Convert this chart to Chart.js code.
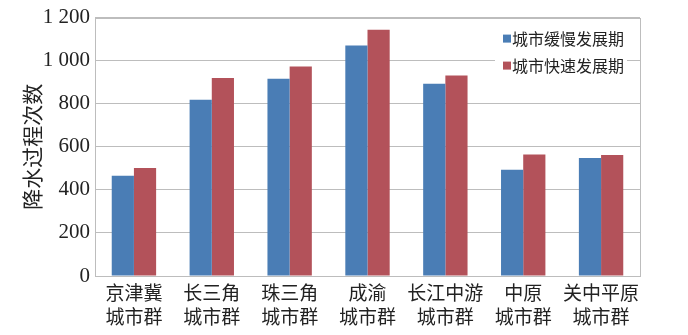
<!DOCTYPE html>
<html>
<head>
<meta charset="utf-8">
<script src="https://cdn.jsdelivr.net/npm/chart.js@4"></script>
<style>
  html, body { margin: 0; padding: 0; background: #fff; }
  #wrap { width: 688px; height: 335px; }
</style>
</head>
<body>
<div id="wrap"><canvas id="rainChart" width="688" height="335"></canvas></div>
<script>
const regions = [
  ["京津冀", "城市群"],
  ["长三角", "城市群"],
  ["珠三角", "城市群"],
  ["成渝", "城市群"],
  ["长江中游", "城市群"],
  ["中原", "城市群"],
  ["关中平原", "城市群"]
];
const slowPeriod = [465, 819, 916, 1070, 893, 494, 548];
const fastPeriod = [502, 919, 973, 1143, 931, 564, 562];
const seriesNames = ["城市缓慢发展期", "城市快速发展期"];
const yTicks = [0, 200, 400, 600, 800, 1000, 1200];

const blue = "#4A7DB5";
const red = "#B3525A";
const gridColor = "#BDBDBD";
const numFont = "'Liberation Serif', 'DejaVu Serif', serif";
const cjkFont = "'Noto Sans CJK SC', sans-serif";

// legend drawn inside the plot, top right, over the gridlines
const insideLegend = {
  id: "insideLegend",
  afterDatasetsDraw(chart) {
    const ctx = chart.ctx;
    const area = chart.chartArea;
    ctx.save();
    // plot border (top + right)
    ctx.strokeStyle = gridColor;
    ctx.lineWidth = 1;
    ctx.strokeRect(Math.round(area.left) + 0.5, Math.round(area.top) + 0.5,
      Math.round(area.right - area.left), Math.round(area.bottom - area.top));
    const x0 = area.right - 145;
    const y0 = area.top + 8;
    ctx.fillStyle = "#fff";
    ctx.fillRect(x0, y0, 132, 56);
    ctx.font = "16px " + cjkFont;
    ctx.textBaseline = "middle";
    chart.data.datasets.forEach((ds, i) => {
      const cy = y0 + 13 + i * 27;
      ctx.fillStyle = ds.backgroundColor;
      ctx.fillRect(x0 + 8, cy - 4, 8, 8);
      ctx.fillStyle = "#222";
      ctx.fillText(ds.label, x0 + 17, cy);
    });
    ctx.restore();
  }
};

new Chart(document.getElementById("rainChart"), {
  type: "bar",
  data: {
    labels: regions,
    datasets: [
      { label: seriesNames[0], data: slowPeriod, backgroundColor: blue },
      { label: seriesNames[1], data: fastPeriod, backgroundColor: red }
    ]
  },
  options: {
    responsive: false,
    animation: false,
    layout: { padding: { top: 17, right: 48, left: 0, bottom: 0 } },
    plugins: {
      legend: { display: false },
      tooltip: { enabled: false }
    },
    datasets: {
      bar: { categoryPercentage: 0.57, barPercentage: 1.0 }
    },
    scales: {
      x: {
        grid: { display: false },
        border: { display: true, color: gridColor },
        ticks: {
          color: "#222",
          font: { family: cjkFont, size: 19, lineHeight: 1.25 },
          padding: -3,
          maxRotation: 0,
          autoSkip: false
        },
        afterFit(scale) { scale.height = 59; }
      },
      y: {
        min: 0,
        max: 1200,
        afterBuildTicks(scale) { scale.ticks = yTicks.map(v => ({ value: v })); },
        grid: { color: gridColor, drawTicks: false },
        border: { display: true, color: gridColor },
        ticks: {
          color: "#222",
          font: { family: numFont, size: 21 },
          padding: 5,
          callback: v => String(v).replace(/\B(?=(\d{3})+(?!\d))/g, " ")
        },
        title: {
          display: true,
          text: "降水过程次数",
          color: "#222",
          font: { family: cjkFont, size: 21 },
          padding: { top: 19, bottom: 0 }
        },
        afterFit(scale) { scale.width = 95; }
      }
    }
  },
  plugins: [insideLegend]
});
</script>
</body>
</html>
